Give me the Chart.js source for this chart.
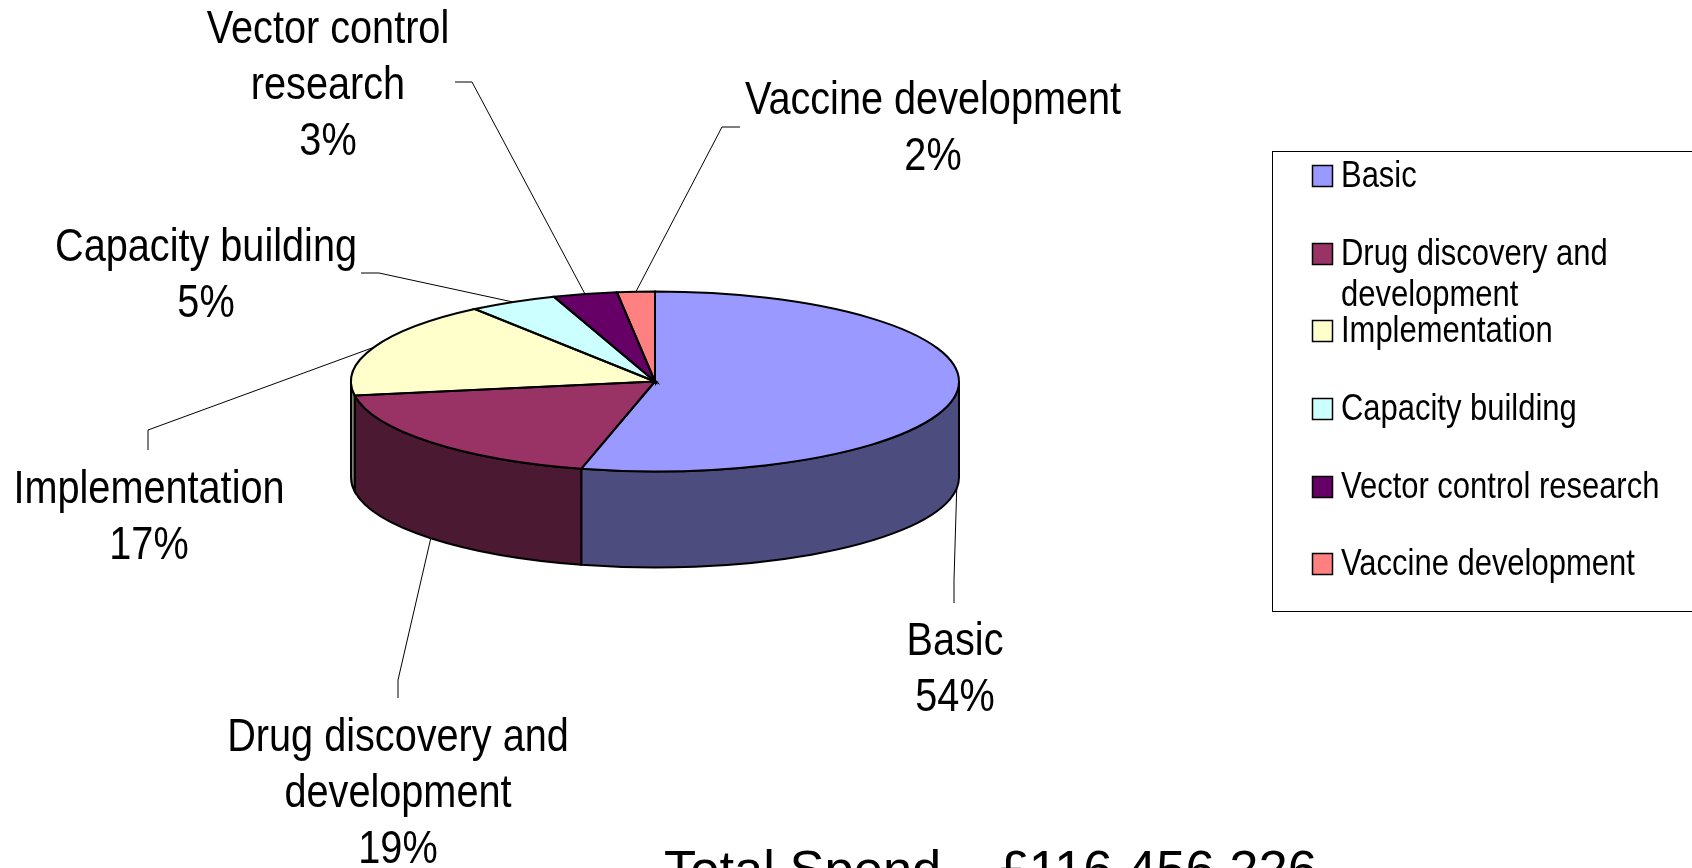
<!DOCTYPE html>
<html>
<head>
<meta charset="utf-8">
<style>
html, body { margin: 0; padding: 0; background: #fff; overflow: hidden; }
canvas { display: block; }
</style>
<script src="https://cdn.jsdelivr.net/npm/chart.js@4"></script>
</head>
<body>
<canvas id="myChart" width="1692" height="868"></canvas>
<script>
const categories = ['Basic', 'Drug discovery and development', 'Implementation', 'Capacity building', 'Vector control research', 'Vaccine development'];
const shares = [53.9, 18.6, 17.4, 4.7, 3.4, 2.0];
const topColors = ['#9999ff', '#993366', '#ffffcc', '#ccffff', '#660066', '#ff8080'];
const sideColors = ['#4c4c7f', '#4c1933', '#7f7f66', '#667f7f', '#330033', '#7f4040'];

// label lines, centre x / first line y, and the elbow and end of each leader
const labelLines = [
    ['Basic', '54%'],
    ['Drug discovery and', 'development', '19%'],
    ['Implementation', '17%'],
    ['Capacity building', '5%'],
    ['Vector control', 'research', '3%'],
    ['Vaccine development', '2%']
];
const labelPos = [[955, 642], [398, 738], [149, 490], [206, 248], [328, 30], [933, 101]];
const leaderEnds = [
    [[954, 580], [954, 603]],
    [[398, 680], [398, 698]],
    [[148, 430], [148, 450]],
    [[379, 273], [361, 273]],
    [[472, 82], [455, 82]],
    [[722, 127], [740, 127]]
];
const legendRows = [
    ['Basic'],
    ['Drug discovery and', 'development'],
    ['Implementation'],
    ['Capacity building'],
    ['Vector control research'],
    ['Vaccine development']
];
const legendY = [176, 254, 331, 409, 487, 564];
const totalText = 'Total Spend \u2013 \u00a3116,456,226';

const squash = 0.296;   // vertical squeeze of the pie disc
const depth = 96;       // height of the wall
const labelNarrow = 0.862;   // the text in the picture is squeezed sideways
const legendNarrow = 0.86;
const labelFont = '46px "Liberation Sans"';
const legendFont = '36px "Liberation Sans"';

function arcGeom(chart) {
    const arcs = chart.getDatasetMeta(0).data;
    return { arcs, cx: arcs[0].x, cy: arcs[0].y, rx: arcs[0].outerRadius, ry: arcs[0].outerRadius * squash };
}

function narrowText(ctx, text, x, y, narrow) {
    ctx.save();
    ctx.translate(x, y);
    ctx.scale(narrow, 1);
    ctx.fillText(text, 0, 0);
    ctx.restore();
}

const pie3d = {
    id: 'pie3d',
    beforeDatasetsDraw(chart) {
        const { ctx } = chart;
        const { arcs, cx, cy, rx, ry } = arcGeom(chart);
        ctx.save();
        // wall: only the part of each slice facing the viewer
        ctx.lineWidth = 2;
        ctx.strokeStyle = '#000';
        arcs.forEach((arc, i) => {
            const twoPi = Math.PI * 2;
            let a0 = arc.startAngle, a1 = arc.endAngle;
            if (a1 <= 0) { a0 += twoPi; a1 += twoPi; }
            const from = Math.max(a0, 0), to = Math.min(a1, Math.PI);
            if (from >= to) return;
            ctx.beginPath();
            ctx.ellipse(cx, cy, rx, ry, 0, from, to);
            ctx.ellipse(cx, cy + depth, rx, ry, 0, to, from, true);
            ctx.closePath();
            ctx.fillStyle = sideColors[i];
            ctx.fill();
            ctx.stroke();
        });
        ctx.restore();
        // the library draws the slices through this squeeze
        ctx.save();
        ctx.translate(cx, cy);
        ctx.scale(1, squash);
        ctx.translate(-cx, -cy);
    },
    afterDatasetsDraw(chart) {
        const { ctx } = chart;
        ctx.restore();
        const { arcs, cx, cy, rx, ry } = arcGeom(chart);
        ctx.save();
        ctx.lineWidth = 2;
        ctx.strokeStyle = '#000';
        arcs.forEach((arc) => {
            ctx.beginPath();
            ctx.moveTo(cx, cy);
            ctx.ellipse(cx, cy, rx, ry, 0, arc.startAngle, arc.endAngle);
            ctx.closePath();
            ctx.stroke();
        });
        ctx.restore();
    },
    afterDraw(chart) {
        const { ctx } = chart;
        const { arcs, cx, cy, rx, ry } = arcGeom(chart);
        ctx.save();
        ctx.fillStyle = '#000';
        ctx.textAlign = 'center';
        ctx.textBaseline = 'middle';

        // leaders start on the outline at each slice's mid angle
        arcs.forEach((arc, i) => {
            const mid = (arc.startAngle + arc.endAngle) / 2;
            const sx = cx + rx * Math.cos(mid);
            let sy = cy + ry * Math.sin(mid);
            if (Math.sin(mid) > 0) sy += depth;
            ctx.beginPath();
            ctx.moveTo(sx, sy);
            leaderEnds[i].forEach(p => ctx.lineTo(p[0], p[1]));
            ctx.lineWidth = 1;
            ctx.strokeStyle = '#000';
            ctx.stroke();
        });

        ctx.font = labelFont;
        labelLines.forEach((lines, i) => {
            lines.forEach((line, j) => {
                narrowText(ctx, line, labelPos[i][0], labelPos[i][1] + j * 56, labelNarrow);
            });
        });

        // legend box runs off the right of the page
        ctx.lineWidth = 1;
        ctx.strokeStyle = '#000';
        ctx.strokeRect(1272.5, 151.5, 460, 460);
        ctx.textAlign = 'left';
        ctx.font = legendFont;
        legendRows.forEach((lines, i) => {
            ctx.fillStyle = topColors[i];
            ctx.fillRect(1312.5, legendY[i] - 10.5, 20, 21);
            ctx.lineWidth = 1.5;
            ctx.strokeRect(1312.5, legendY[i] - 10.5, 20, 21);
            ctx.fillStyle = '#000';
            lines.forEach((line, j) => narrowText(ctx, line, 1341, legendY[i] + 1 + j * 41, legendNarrow));
        });

        ctx.font = '52.5px "Liberation Sans"';
        ctx.textBaseline = 'alphabetic';
        ctx.fillText(totalText, 664, 887);
        ctx.restore();
    }
};

new Chart(document.getElementById('myChart').getContext('2d'), {
    type: 'pie',
    data: {
        labels: categories,
        datasets: [{
            data: shares,
            backgroundColor: topColors,
            borderWidth: 0
        }]
    },
    options: {
        responsive: false,
        animation: false,
        layout: { padding: { left: 351, right: 733, top: 77.5, bottom: 182.5 } },
        plugins: {
            legend: { display: false },
            tooltip: { enabled: false }
        }
    },
    plugins: [pie3d]
});
</script>
</body>
</html>
